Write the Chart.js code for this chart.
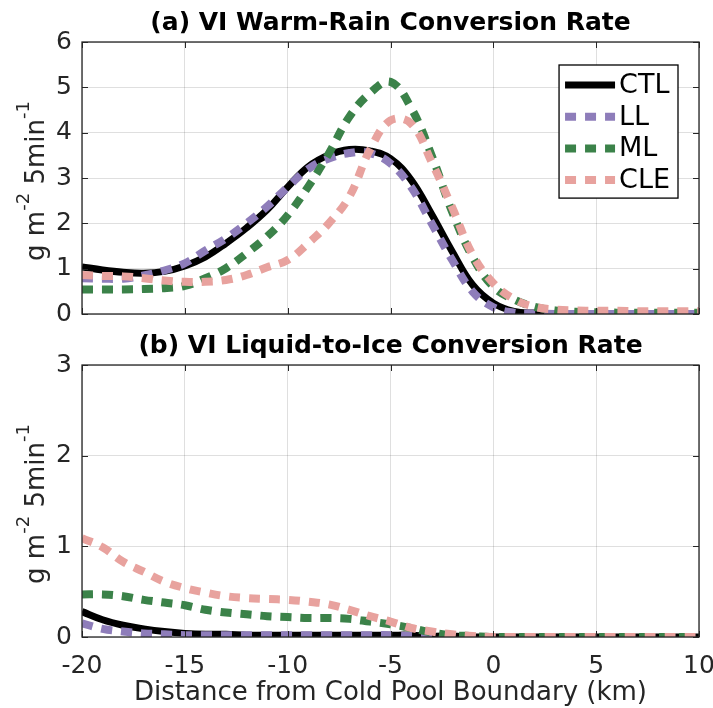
<!DOCTYPE html>
<html>
<head>
<meta charset="utf-8">
<script src="https://cdn.jsdelivr.net/npm/chart.js@4.4.1/dist/chart.umd.min.js"></script>
<style>
    html, body { margin: 0; padding: 0; background: #fff; }
    #wrap { position: relative; width: 713px; height: 708px; }
    #warmRainChart { position: absolute; left: 0; top: 0; }
    #liquidIceChart { position: absolute; left: 0; top: 325px; }
</style>
</head>
<body>
<div id="wrap">
    <canvas id="warmRainChart" width="713" height="325"></canvas>
    <canvas id="liquidIceChart" width="713" height="383"></canvas>
</div>
<script>
// distance from cold pool boundary (km)
const distanceKm = [-20, -19, -18, -17, -16, -15, -14, -13, -12, -11, -10,
    -9, -8, -7, -6, -5, -4, -3, -2, -1, 0,
    1, 2, 3, 4, 5, 6, 7, 8, 9, 10];

const seriesNames = ["CTL", "LL", "ML", "CLE"];

// (a) warm-rain conversion rate
const ctlRain = [1.04, 0.97, 0.92, 0.90, 0.94, 1.06, 1.26, 1.56, 1.90, 2.30, 2.80,
    3.25, 3.51, 3.63, 3.60, 3.43, 2.96, 2.20, 1.38, 0.64, 0.24,
    0.06, 0.02, 0.01, 0, 0, 0, 0, 0, 0, 0];
const llRain = [0.79, 0.78, 0.78, 0.85, 0.96, 1.12, 1.40, 1.67, 2.00, 2.37, 2.80,
    3.20, 3.43, 3.55, 3.55, 3.32, 2.80, 2.00, 1.19, 0.49, 0.15,
    0.03, 0.01, 0, 0, 0, 0, 0, 0, 0, 0];
const mlRain = [0.54, 0.54, 0.54, 0.55, 0.57, 0.62, 0.79, 1.01, 1.34, 1.71, 2.18,
    2.81, 3.54, 4.35, 4.87, 5.12, 4.55, 3.50, 2.25, 1.25, 0.60,
    0.32, 0.16, 0.08, 0.05, 0.04, 0.03, 0.03, 0.03, 0.03, 0.03];
const cleRain = [0.86, 0.84, 0.83, 0.79, 0.74, 0.71, 0.71, 0.75, 0.86, 1.03, 1.19,
    1.56, 2.00, 2.59, 3.62, 4.27, 4.20, 3.35, 2.35, 1.30, 0.68,
    0.33, 0.16, 0.10, 0.08, 0.07, 0.07, 0.06, 0.06, 0.06, 0.06];

// (b) liquid-to-ice conversion rate
const ctlIce = [0.28, 0.19, 0.13, 0.09, 0.06, 0.04, 0.03, 0.03, 0.02, 0.02, 0.02,
    0.02, 0.02, 0.02, 0.02, 0.02, 0.02, 0.01, 0.01, 0, 0,
    0, 0, 0, 0, 0, 0, 0, 0, 0, 0];
const llIce = [0.15, 0.09, 0.06, 0.04, 0.03, 0.02, 0.02, 0.02, 0.02, 0.02, 0.02,
    0.02, 0.02, 0.02, 0.02, 0.02, 0.01, 0.01, 0, 0, 0,
    0, 0, 0, 0, 0, 0, 0, 0, 0, 0];
const mlIce = [0.47, 0.47, 0.45, 0.41, 0.38, 0.35, 0.30, 0.27, 0.25, 0.23, 0.22,
    0.21, 0.21, 0.20, 0.17, 0.14, 0.10, 0.05, 0.02, 0.01, 0,
    0, 0, 0, 0, 0, 0, 0, 0, 0, 0];
const cleIce = [1.09, 0.99, 0.83, 0.72, 0.61, 0.54, 0.49, 0.45, 0.43, 0.42, 0.41,
    0.39, 0.36, 0.30, 0.23, 0.17, 0.10, 0.06, 0.03, 0.01, 0,
    0, 0, 0, 0, 0, 0, 0, 0, 0, 0];

// y label pieces: [text, superscript?]
const yLabelParts = [["g m", false], ["-2", true], [" 5min", false], ["-1", true]];

const FONT = "DejaVu Sans";
const AXIS_COLOR = "#262626";
const seriesColors = ["#000000", "#8E7DBA", "#3B8249", "#E8A29E"];

function makeDatasets(values) {
    return values.map((vals, i) => ({
        label: seriesNames[i],
        data: distanceKm.map((x, j) => ({ x: x, y: vals[j] })),
        borderColor: seriesColors[i],
        borderWidth: i == 0 ? 7 : 8,
        borderDash: i == 0 ? [] : [11, 9],
        borderCapStyle: "butt",
        pointRadius: 0,
        tension: 0.4,
        fill: false,
        order: 4 - i
    }));
}

// box, inward ticks, y label with superscripts, boxed legend
const axesDecor = {
    id: "axesDecor",
    afterDraw(chart, args, opts) {
        const ctx = chart.ctx;
        const a = chart.chartArea;
        const xs = chart.scales.x, ys = chart.scales.y;
        ctx.save();

        ctx.strokeStyle = AXIS_COLOR;
        ctx.lineWidth = 1;
        ctx.beginPath();
        xs.ticks.forEach(t => {
            const px = Math.round(xs.getPixelForValue(t.value)) + 0.5;
            ctx.moveTo(px, a.bottom); ctx.lineTo(px, a.bottom - 6);
            ctx.moveTo(px, a.top); ctx.lineTo(px, a.top + 6);
        });
        ys.ticks.forEach(t => {
            const py = Math.round(ys.getPixelForValue(t.value)) + 0.5;
            ctx.moveTo(a.left, py); ctx.lineTo(a.left + 6, py);
            ctx.moveTo(a.right, py); ctx.lineTo(a.right - 6, py);
        });
        ctx.stroke();
        ctx.lineWidth = 1.3;
        ctx.strokeRect(a.left, a.top, a.right - a.left, a.bottom - a.top);

        // rotated y label
        const mainFont = "26px '" + FONT + "'";
        const supFont = "18px '" + FONT + "'";
        let total = 0;
        yLabelParts.forEach(p => {
            ctx.font = p[1] ? supFont : mainFont;
            total += ctx.measureText(p[0]).width;
        });
        ctx.translate(44, (a.top + a.bottom) / 2 + 3);
        ctx.rotate(-Math.PI / 2);
        ctx.fillStyle = AXIS_COLOR;
        ctx.textBaseline = "alphabetic";
        ctx.textAlign = "left";
        let cx = -total / 2;
        yLabelParts.forEach(p => {
            ctx.font = p[1] ? supFont : mainFont;
            ctx.fillText(p[0], cx, p[1] ? -15 : 0);
            cx += ctx.measureText(p[0]).width;
        });
        ctx.setTransform(1, 0, 0, 1, 0, 0);

        if (opts.legend) {
            const datasets = chart.data.datasets;
            ctx.font = "27px '" + FONT + "'";
            const textW = Math.max(...datasets.map(d => ctx.measureText(d.label).width));
            const w = 6 + 50 + 4 + textW + 8;
            const rowH = 31.7;
            const h = 20 + rowH * (datasets.length - 1) + 18;
            const x0 = a.right - 21 - w;
            const y0 = a.top + 23;
            ctx.fillStyle = "#fff";
            ctx.fillRect(x0, y0, w, h);
            ctx.strokeStyle = "#000";
            ctx.lineWidth = 1.3;
            ctx.strokeRect(x0, y0, w, h);
            datasets.forEach((d, i) => {
                const ry = y0 + 20 + i * rowH;
                ctx.strokeStyle = d.borderColor;
                ctx.lineWidth = d.borderWidth;
                ctx.lineCap = "butt";
                ctx.setLineDash(d.borderDash);
                ctx.beginPath();
                ctx.moveTo(x0 + 6, ry);
                ctx.lineTo(x0 + 56, ry);
                ctx.stroke();
                ctx.setLineDash([]);
                ctx.fillStyle = "#000";
                ctx.textBaseline = "middle";
                ctx.fillText(d.label, x0 + 60, ry + 1);
            });
        }
        ctx.restore();
    }
};

function makeChart(canvasId, title, values, yMax, opts) {
    const ctx = document.getElementById(canvasId).getContext("2d");
    return new Chart(ctx, {
        type: "line",
        data: { datasets: makeDatasets(values) },
        plugins: [axesDecor],
        options: {
            responsive: false,
            animation: false,
            layout: { padding: { left: 0, right: 14, top: 0, bottom: opts.bottomPad } },
            scales: {
                x: {
                    type: "linear",
                    min: -20,
                    max: 10,
                    grid: { color: "rgba(38,38,38,0.15)", drawTicks: false },
                    border: { display: false },
                    ticks: {
                        display: opts.xTicks,
                        stepSize: 5,
                        padding: 14,
                        maxRotation: 0,
                        autoSkip: false,
                        color: AXIS_COLOR,
                        font: { family: FONT, size: 25 }
                    },
                    title: {
                        display: opts.xTicks,
                        text: "Distance from Cold Pool Boundary (km)",
                        color: AXIS_COLOR,
                        font: { family: FONT, size: 26, lineHeight: 1.1 },
                        padding: { top: 0, bottom: 0 }
                    },
                    afterFit(scale) {
                        scale.height = opts.xTicks ? 71 : 0;
                        scale.paddingLeft = 0;
                        scale.paddingRight = 0;
                    }
                },
                y: {
                    min: 0,
                    max: yMax,
                    grid: { color: "rgba(38,38,38,0.15)", drawTicks: false },
                    border: { display: false },
                    ticks: {
                        stepSize: 1,
                        padding: 10,
                        color: AXIS_COLOR,
                        font: { family: FONT, size: 25 }
                    },
                    afterFit(scale) {
                        scale.width = 82;
                        scale.paddingTop = 0;
                        scale.paddingBottom = 0;
                    }
                }
            },
            plugins: {
                legend: { display: false },
                tooltip: { enabled: false },
                title: {
                    display: true,
                    text: title,
                    fullSize: false,
                    color: "#000",
                    font: { family: FONT, size: 25, weight: "bold", lineHeight: 1.2 },
                    padding: { top: opts.titleTop, bottom: 4 }
                },
                axesDecor: { legend: opts.legend }
            }
        }
    });
}

makeChart("warmRainChart", "(a) VI Warm-Rain Conversion Rate",
    [ctlRain, llRain, mlRain, cleRain], 6,
    { xTicks: false, legend: true, bottomPad: 11, titleTop: 8 });

makeChart("liquidIceChart", "(b) VI Liquid-to-Ice Conversion Rate",
    [ctlIce, llIce, mlIce, cleIce], 3,
    { xTicks: true, legend: false, bottomPad: 0, titleTop: 6 });
</script>
</body>
</html>
